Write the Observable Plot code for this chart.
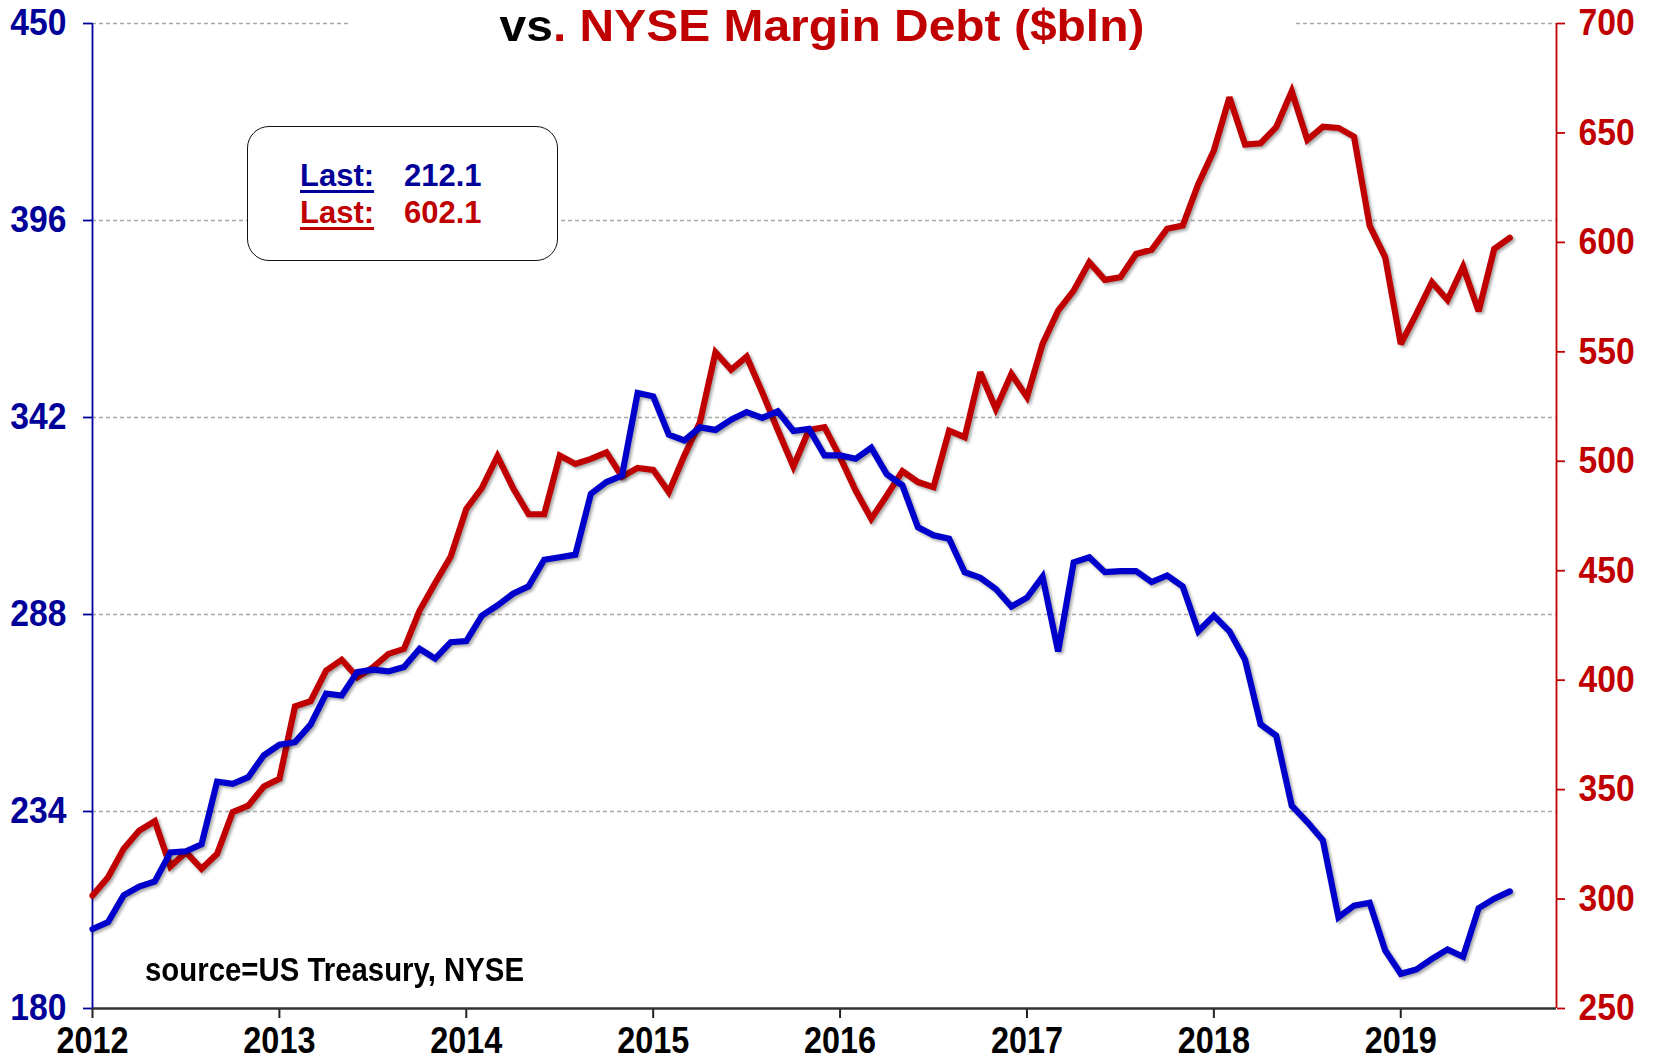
<!DOCTYPE html>
<html><head><meta charset="utf-8">
<script src="https://cdn.jsdelivr.net/npm/d3@7"></script>
<script src="https://cdn.jsdelivr.net/npm/@observablehq/plot@0.6"></script>
<style>
body{margin:0;background:#fff;}
#wrap{position:relative;width:1655px;height:1061px;overflow:hidden;}
#title{position:absolute;left:348px;top:0;width:948px;height:46px;background:#fff;}
#title span.t{position:absolute;left:0;top:4px;width:100%;text-align:center;font:bold 44px "Liberation Sans",Arial,sans-serif;line-height:44px;color:#C00000;white-space:nowrap;transform:scaleX(1.09);transform-origin:center center;}
#legend{position:absolute;left:247px;top:126px;width:311px;height:135px;box-sizing:border-box;border:1.5px solid #111;border-radius:22px;background:#fff;}
#legend span{position:absolute;font:bold 31px "Liberation Sans",Arial,sans-serif;line-height:31px;white-space:nowrap;}
#legend span.u{text-decoration:underline;text-decoration-thickness:3px;text-underline-offset:4px;}
#source{position:absolute;left:145px;top:953px;font:bold 33px "Liberation Sans",Arial,sans-serif;line-height:33px;color:#000;white-space:nowrap;transform:scaleX(0.89);transform-origin:left center;}
</style>
</head><body>
<div id="wrap"></div>
<script>
// ---- data ----
const years = [2012, 2013, 2014, 2015, 2016, 2017, 2018, 2019];
const leftTicks = [180, 234, 288, 342, 396, 450];
const rightTicks = [250, 300, 350, 400, 450, 500, 550, 600, 650, 700];
const startYear = 2012;
const monthsShown = 94; // Jan 2012 .. Nov 2019 axis span
// Blue series (left axis), monthly Jan 2012 - Aug 2019
const treasury = [201.8,203.7,211.0,213.4,214.8,222.8,223.1,225.0,242.2,241.6,243.4,249.4,
252.3,253.0,257.8,266.3,265.8,272.2,272.9,272.4,273.6,278.6,275.9,280.4,
280.7,287.7,290.5,293.7,295.7,303.0,303.7,304.4,321.1,324.3,326.1,348.7,
347.8,337.3,335.7,339.3,338.6,341.4,343.5,341.9,343.7,338.3,338.9,331.6,
331.6,330.7,333.7,326.4,323.4,311.9,309.7,308.8,299.6,298.1,295.0,290.2,
292.6,298.4,277.9,302.3,303.7,299.6,299.9,299.9,296.9,298.7,295.7,283.4,
287.7,283.4,275.6,257.9,254.8,235.6,231.1,226.1,205.0,208.2,209.0,195.9,
189.5,190.7,193.6,196.2,194.2,207.5,210.1,212.1];
// Red series (right axis): NYSE Margin Debt ($bln)
const marginDebt = [301.6,310.0,323.0,331.3,335.6,314.9,321.4,313.8,320.7,339.7,342.7,351.4,
354.9,388.0,390.4,404.4,409.3,401.3,405.9,412.0,414.3,431.8,444.4,456.5,
478.2,487.8,502.3,487.8,475.8,475.8,502.6,498.8,501.1,504.1,493.0,497.0,
496.1,485.9,502.6,517.8,549.8,541.8,547.8,531.5,514.3,497.6,514.3,515.6,
501.9,486.6,473.7,484.4,495.5,490.5,488.2,514.0,511.0,540.7,523.9,539.9,
529.3,553.6,568.8,578.0,590.9,582.9,584.1,594.7,596.6,606.2,607.7,626.7,
642.0,666.3,644.7,645.3,652.6,669.0,646.8,652.9,652.3,648.3,607.7,593.2,
553.6,567.3,581.8,573.7,588.9,568.5,597.0,602.1];
const titleBlack = "vs";
const titleRed = ". NYSE Margin Debt ($bln)";
const sourceText = "source=US Treasury, NYSE";

// ---- scales helpers ----
const L0 = 180, L1 = 450, R0 = 250, R1 = 700;
const toLeft = v => L0 + (v - R0) * (L1 - L0) / (R1 - R0);
const fromLeft = d => Math.round(R0 + (d - L0) * (R1 - R0) / (L1 - L0));
const xMax = startYear + monthsShown / 12;
const blueData = treasury.map((v, i) => ({x: startYear + i / 12, y: v}));
const redData = marginDebt.map((v, i) => ({x: startYear + i / 12, y: toLeft(v)}));

const BLUE_LINE = "#0000CC", BLUE_TEXT = "#000099", RED = "#C00000";
const FONT = '"Liberation Sans",Arial,sans-serif';

const chart = Plot.plot({
  width: 1655, height: 1061,
  marginLeft: 92, marginRight: 99, marginTop: 23, marginBottom: 53,
  x: {domain: [startYear, xMax], axis: null},
  y: {domain: [L0, L1], axis: null},
  style: {fontFamily: FONT, fontWeight: "bold", background: "#fff", overflow: "visible"},
  marks: [
    Plot.gridY(leftTicks.filter(t => t > L0), {stroke: "#a8a8a8", strokeOpacity: 1, strokeWidth: 1.3, strokeDasharray: "4,3"}),
    Plot.axisY(leftTicks, {anchor: "left", tickSize: 9, tickPadding: 17, color: BLUE_TEXT, stroke: BLUE_TEXT, fill: BLUE_TEXT,
      strokeWidth: 1.8, fontSize: 37, fontWeight: "bold", tickFormat: d => String(d), label: null}),
    Plot.axisY(rightTicks.map(toLeft), {anchor: "right", tickSize: 8, tickPadding: 14, color: RED, stroke: RED, fill: RED,
      strokeWidth: 1.8, fontSize: 37, fontWeight: "bold", tickFormat: d => String(fromLeft(d)), label: null}),
    Plot.axisX(years, {anchor: "bottom", tickSize: 10, tickPadding: 9, color: "#000", stroke: "#222", fill: "#000",
      strokeWidth: 2, fontSize: 36, fontWeight: "bold", tickFormat: d => String(d), label: null}),
    Plot.ruleY([L0], {stroke: "#333", strokeWidth: 2.5}),
    Plot.ruleX([startYear], {stroke: "#0000A0", strokeWidth: 1.8}),
    Plot.ruleX([xMax], {stroke: RED, strokeWidth: 1.8}),
    Plot.line(redData, {x: "x", y: "y", stroke: RED, strokeWidth: 6.2, strokeLinejoin: "miter", strokeMiterlimit: 3}),
    Plot.line(blueData, {x: "x", y: "y", stroke: BLUE_LINE, strokeWidth: 6.2, strokeLinejoin: "miter", strokeMiterlimit: 3})
  ]
});

chart.querySelectorAll('g[aria-label="line"] path').forEach(p => {
  p.style.filter = "drop-shadow(2px 2px 1.5px rgba(0,0,0,0.35))";
});

const wrap = document.getElementById("wrap");
wrap.appendChild(chart);
chart.style.position = "absolute"; chart.style.left = "0"; chart.style.top = "0";

// condense axis tick labels (the original uses a narrow bold face)
chart.querySelectorAll('g[aria-label$="tick label"] text').forEach(t => {
  const w = t.getComputedTextLength();
  const isX = t.closest('g').getAttribute('aria-label').startsWith('x');
  t.setAttribute("textLength", (w * (isX ? 0.9 : 0.91)).toFixed(1));
  t.setAttribute("lengthAdjust", "spacingAndGlyphs");
});

// title
const title = document.createElement("div");
title.id = "title";
title.innerHTML = `<span class="t"><span style="color:#000">${titleBlack}</span>${titleRed}</span>`;
wrap.appendChild(title);

// legend box
const lastBlue = treasury[treasury.length - 1].toFixed(1);
const lastRed = marginDebt[marginDebt.length - 1].toFixed(1);
const legend = document.createElement("div");
legend.id = "legend";
legend.innerHTML = `
 <span class="u" style="left:52px;top:33px;color:${BLUE_TEXT}">Last:</span>
 <span style="left:156px;top:33px;color:${BLUE_TEXT}">${lastBlue}</span>
 <span class="u" style="left:52px;top:70px;color:${RED}">Last:</span>
 <span style="left:156px;top:70px;color:${RED}">${lastRed}</span>`;
wrap.appendChild(legend);

// source
const src = document.createElement("div");
src.id = "source";
src.textContent = sourceText;
wrap.appendChild(src);
</script>
</body></html>
